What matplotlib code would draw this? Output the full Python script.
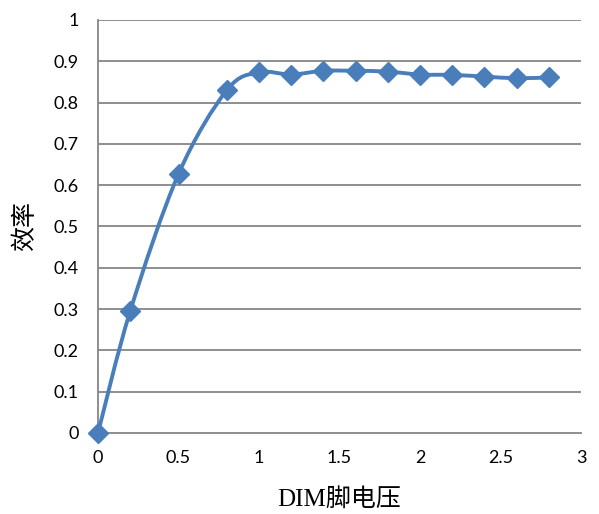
import numpy as np
import matplotlib.pyplot as plt
from matplotlib.path import Path
from matplotlib.patches import PathPatch

# ============= Data =============

dim_voltage = [0, 0.2, 0.5, 0.8, 1.0, 1.2, 1.4, 1.6, 1.8, 2.0, 2.2, 2.4, 2.6, 2.8]
efficiency = [0, 0.295, 0.627, 0.830, 0.873, 0.868, 0.877, 0.877, 0.875,
              0.868, 0.867, 0.863, 0.859, 0.861]

x_ticks = [0, 0.5, 1, 1.5, 2, 2.5, 3]
x_tick_labels = ["0", "0.5", "1", "1.5", "2", "2.5", "3"]
y_ticks = [0, 0.1, 0.2, 0.3, 0.4, 0.5, 0.6, 0.7, 0.8, 0.9, 1]
y_tick_labels = ["0", "0.1", "0.2", "0.3", "0.4", "0.5", "0.6", "0.7", "0.8", "0.9", "1"]

LINE_COLOR = "#4A7EBB"
GRID_COLOR = "#868686"

# ============= Smooth path (Excel-style Catmull-Rom Bezier) =============

pts = np.column_stack([dim_voltage, efficiency])
n = len(pts)
verts = [pts[0]]
codes = [Path.MOVETO]
for i in range(n - 1):
    p0 = pts[i - 1] if i > 0 else pts[i]
    p1 = pts[i]
    p2 = pts[i + 1]
    p3 = pts[i + 2] if i + 2 < n else pts[i + 1]
    c1 = p1 + (p2 - p0) / 6
    c2 = p2 - (p3 - p1) / 6
    verts += [c1, c2, p2]
    codes += [Path.CURVE4] * 3

# ============= Plot =============

fig = plt.figure(figsize=(5.99, 5.14), dpi=100)
ax = fig.add_axes([0.1636, 0.1576, 0.8064, 0.8035])

for y in y_ticks[1:]:
    ax.axhline(y, color=GRID_COLOR, lw=1.3, zorder=1)

ax.add_patch(PathPatch(Path(verts, codes), fill=False, ec=LINE_COLOR,
                       lw=2.8, capstyle="round", joinstyle="round", zorder=3))
ax.plot(dim_voltage, efficiency, ls="none", marker="D", ms=10.5,
        color=LINE_COLOR, zorder=4, clip_on=False)

ax.set_xlim(0, 3)
ax.set_ylim(0, 1)
ax.set_xticks(x_ticks)
ax.set_xticklabels(x_tick_labels)
ax.set_yticks(y_ticks)
ax.set_yticklabels(y_tick_labels)
ax.tick_params(length=0, labelsize=13)
ax.tick_params(axis="x", pad=12)
ax.tick_params(axis="y", pad=14)
for lab in ax.get_xticklabels() + ax.get_yticklabels():
    lab.set_family("Lato")

for s in ["top", "right"]:
    ax.spines[s].set_visible(False)
for s in ["left", "bottom"]:
    ax.spines[s].set_color(GRID_COLOR)
    ax.spines[s].set_linewidth(1.3)

label_font = ["Liberation Serif", "Noto Sans CJK SC"]
ax.set_xlabel("DIM脚电压", family=label_font, fontsize=18, labelpad=16)
ax.set_ylabel("效率", family=label_font, fontsize=18, labelpad=12)

plt.savefig("out.png", dpi=100)
